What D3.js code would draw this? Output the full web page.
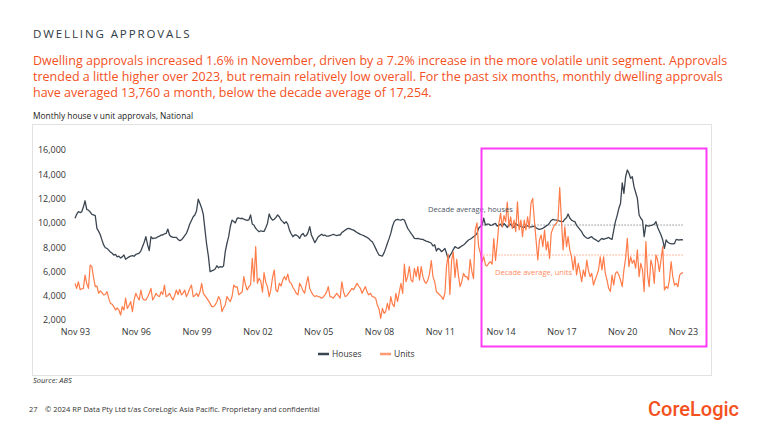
<!DOCTYPE html>
<html>
<head>
<meta charset="utf-8">
<script src="https://cdn.jsdelivr.net/npm/d3@7"></script>
<style>
  body { margin: 0; background: #fff; }
  text { font-family: "Open Sans", sans-serif; }
</style>
</head>
<body>
<svg id="chart" width="768" height="432"></svg>
<script>
// monthly approvals, Nov 1993 .. Nov 2023 (one row per year, starting in November)
const houses = [
  10380,10700,10920,10850,10900,11300,11820,11100,11050,10900,10700,10650,
  10600,9550,9300,9000,8600,8180,7950,7900,7750,7600,7500,7350,
  7400,7200,7260,7100,7200,7350,7000,7100,7200,7260,7300,7250,
  7400,7450,7500,7700,8040,8400,8860,8200,7710,8860,8700,8750,
  8750,8850,8900,9000,9000,9100,9130,9490,9000,8860,8800,8800,
  8800,8650,8530,8600,8750,8950,9130,9500,9900,10200,10500,10650,
  11000,11950,11600,11200,10700,9400,8200,7260,5980,6050,6100,6200,
  6470,6300,6400,6350,6450,7630,8300,8860,9700,10230,10100,10000,
  10380,10400,10350,10380,10300,10250,10200,10250,10650,9900,9800,9550,
  9400,9270,9350,9300,9300,9600,9950,10730,10400,10230,10300,10450,
  10650,10500,10230,10100,9950,10100,9900,9400,9100,8860,9000,9000,
  8900,8720,9000,9130,8900,8950,9200,9680,9000,8700,8370,8600,
  8860,8950,9070,8950,9000,8900,8900,8950,9000,9050,9000,8950,
  9000,9000,9200,9300,9400,9500,9550,9500,9450,9400,9300,9200,
  9130,9050,9000,8950,8860,8800,8700,8550,8450,8200,7900,7600,
  7350,7300,7270,7550,7900,8320,8700,9130,9700,10100,10250,10290,
  10250,10230,10300,10230,9900,9550,9350,9130,8950,8720,8700,8720,
  8680,8650,8640,8550,8500,8450,8400,8320,8100,8200,7680,7900,
  7820,7630,7750,7900,7500,7000,7300,7500,7800,8040,7950,7900,
  8000,8100,8180,8300,8450,8590,8650,8750,8860,8950,9130,9550,
  9700,9800,10380,9820,9900,9900,9800,9820,9900,9950,9730,9800,
  9900,9680,9950,9800,9620,9820,9900,9700,9620,9950,9820,9750,
  9700,9650,9620,9820,9750,9700,9650,9700,9730,9600,9500,9470,
  9500,9550,9650,9750,9820,10000,10200,10290,10250,10230,10200,10150,
  10100,10100,10300,10420,10730,10400,10230,10150,10100,9800,9620,9450,
  9270,9000,8860,8750,8720,8800,8860,8700,8640,8550,8450,8600,
  8720,8640,8700,8750,8800,8700,8640,9410,10100,10600,11200,11600,
  13300,12430,13800,14350,14100,13670,13800,12980,12500,12020,10650,10380,
  10200,8860,9820,9750,9730,9800,9820,9900,10100,9620,9300,9000,
  8590,7900,8590,8400,8320,8280,8270,8300,8640,8600,8590,8620,
  8590
];

const units = [
  5020,4600,5150,4500,4550,4600,5700,5000,4600,6530,6400,5500,
  4750,4800,4200,4400,4250,4070,4100,4330,3800,3370,3300,3100,
  2820,3000,2820,2410,3100,2820,3800,2960,3200,3510,2690,3650,
  4200,3900,3650,4470,3800,3650,3650,3900,4200,4600,3650,3900,
  4200,4000,3930,4330,4100,4880,3930,4000,4200,3900,3650,4000,
  4470,4100,4520,4070,4200,4470,3930,4200,4600,4880,3930,4000,
  4200,3930,4300,5020,4200,4000,3800,3600,3370,3100,3100,3240,
  3500,3930,3650,2690,3000,3240,3930,3700,3510,3930,4880,4700,
  4750,4070,4200,4330,5570,4900,4470,4750,4900,7080,5150,8040,
  5020,5430,5200,4300,5900,5100,4750,3930,4500,5500,6120,4470,
  4330,5020,4800,5290,5570,5300,5780,5150,5020,4700,4470,4200,
  4070,5020,4750,4400,4200,5000,5570,4600,4300,4070,3930,4000,
  3930,3900,3800,3900,4070,4300,4750,3930,3900,3800,4000,4200,
  4000,3800,5150,4300,3930,4000,4200,4400,4600,4500,4750,5020,
  4800,4600,4200,4500,4750,4300,4070,4200,3930,3900,3800,3240,
  2900,2140,2960,2550,2700,3370,2820,3930,3300,3100,4200,3510,
  4300,5020,4200,6610,5150,5570,6400,5290,5150,6260,5570,6400,
  5290,6400,5570,5150,5020,5290,5840,6900,5570,5150,4330,4200,
  4060,3930,3700,4200,6400,7400,4100,6900,7600,5500,7000,5700,
  4750,5150,5840,5570,5570,5300,7000,6000,5400,9400,10000,8040,
  7500,6800,7200,6530,6450,6670,6800,6600,8700,6900,8300,9960,
  10780,9680,10600,10100,11700,9680,10500,9550,10230,9270,11740,9410,
  10230,8860,10230,9410,10500,9550,11600,12020,10230,8590,6940,8590,
  9000,8040,9410,7770,8450,7080,9130,9550,9820,9950,10230,12900,
  10230,7770,9680,8040,8860,7770,7220,6120,7220,5710,6670,5980,
  5160,6120,5570,6940,6120,5570,5840,4880,5290,5700,6120,7210,
  6120,7210,5840,5290,4610,4340,5700,4880,5840,5980,5700,5290,
  4750,6120,7080,8730,6400,7210,6670,6940,6260,7770,5570,6670,
  6120,4340,8450,5700,4750,6940,6400,5020,7350,6940,5980,6940,
  8040,4470,4750,4610,5290,6800,5570,4880,5020,4750,5700,5840,
  5900
];

const xTickLabels = ['Nov 93','Nov 96','Nov 99','Nov 02','Nov 05','Nov 08','Nov 11','Nov 14','Nov 17','Nov 20','Nov 23'];
const yTicks = [2000, 4000, 6000, 8000, 10000, 12000, 14000, 16000];
const decadeAvg = { houses: 9820, units: 7350 };
const decadeStart = 240; // month index where the decade window starts

const subtitle = [
  'Dwelling approvals increased 1.6% in November, driven by a 7.2% increase in the more volatile unit segment. Approvals',
  'trended a little higher over 2023, but remain relatively low overall. For the past six months, monthly dwelling approvals',
  'have averaged 13,760 a month, below the decade average of 17,254.'
];

const HOUSE = '#3b4651', UNIT = '#ff7b48', ORANGE = '#f4511e';

const svg = d3.select('#chart');
const start = new Date(1993, 10, 1);
const dates = houses.map((d, i) => d3.timeMonth.offset(start, i));

// header
svg.append('text').attr('x', 33).attr('y', 38)
  .attr('font-size', 11.5).attr('letter-spacing', 1.9).attr('fill', '#2f3a44')
  .text('DWELLING APPROVALS');

svg.selectAll('.sub').data(subtitle).enter().append('text')
  .attr('class', 'sub')
  .attr('x', 33).attr('y', (d, i) => 65 + i * 16)
  .attr('font-size', 12.5).attr('font-weight', 500).attr('fill', ORANGE)
  .text(d => d);

svg.append('text').attr('x', 33).attr('y', 119)
  .attr('font-size', 8.4).attr('fill', '#222')
  .text('Monthly house v unit approvals, National');

// chart panel
svg.append('rect').attr('x', 32.5).attr('y', 124.5).attr('width', 679).attr('height', 251)
  .attr('fill', '#fff').attr('stroke', '#e2e2e2');

const x = d3.scaleTime().domain([start, dates[dates.length - 1]]).range([75, 683]);
const y = d3.scaleLinear().domain([2000, 16000]).range([320, 150]);

const yAxis = svg.append('g').attr('transform', 'translate(70,0)')
  .call(d3.axisLeft(y).tickValues(yTicks).tickSize(0).tickPadding(4).tickFormat(d3.format(',')));
yAxis.select('.domain').remove();
yAxis.selectAll('text').attr('font-size', 9).attr('fill', '#333')
  .style('font-family', '"Open Sans", sans-serif');

const xTickDates = xTickLabels.map((d, i) => d3.timeMonth.offset(start, i * 36));
const xAxis = svg.append('g').attr('transform', 'translate(0,320)')
  .call(d3.axisBottom(x).tickValues(xTickDates).tickSize(0).tickPadding(9)
    .tickFormat((d, i) => xTickLabels[i]));
xAxis.select('.domain').remove();
xAxis.selectAll('text').attr('font-size', 9).attr('fill', '#333')
  .style('font-family', '"Open Sans", sans-serif');

// decade averages
const avgFrom = dates[decadeStart], avgTo = dates[dates.length - 1];
svg.append('line')
  .attr('x1', x(avgFrom)).attr('x2', x(avgTo))
  .attr('y1', y(decadeAvg.houses)).attr('y2', y(decadeAvg.houses))
  .attr('stroke', '#8a8f94').attr('stroke-width', 1).attr('stroke-dasharray', '1.5,1.5');
svg.append('line')
  .attr('x1', x(avgFrom)).attr('x2', x(avgTo))
  .attr('y1', y(decadeAvg.units)).attr('y2', y(decadeAvg.units))
  .attr('stroke', '#ffa27f').attr('stroke-width', 1).attr('stroke-dasharray', '1.5,1.5');

const line = d3.line().x((d, i) => x(dates[i])).y(d => y(d));

svg.append('path').datum(houses)
  .attr('fill', 'none').attr('stroke', HOUSE).attr('stroke-width', 1.3)
  .attr('stroke-linejoin', 'round').attr('d', line);
svg.append('path').datum(units)
  .attr('fill', 'none').attr('stroke', UNIT).attr('stroke-width', 1.2)
  .attr('stroke-linejoin', 'round').attr('d', line);

// annotations
svg.append('text').attr('x', 428).attr('y', 212)
  .attr('font-size', 7.5).attr('fill', '#4d5863')
  .text('Decade average, houses');
svg.append('text').attr('x', 495).attr('y', 275)
  .attr('font-size', 7.5).attr('fill', '#ff8a5c')
  .text('Decade average, units');

// highlight box
svg.append('rect').attr('x', 481.5).attr('y', 148.5).attr('width', 225).attr('height', 198)
  .attr('fill', 'none').attr('stroke', '#ff3cf5').attr('stroke-width', 2);

// legend
const legend = [
  { name: 'Houses', color: HOUSE, x: 318 },
  { name: 'Units', color: '#ff9a72', x: 380 }
];
const lg = svg.selectAll('.lg').data(legend).enter().append('g').attr('class', 'lg')
  .attr('transform', d => `translate(${d.x},354)`);
lg.append('line').attr('x1', 0).attr('x2', 11).attr('stroke', d => d.color).attr('stroke-width', 2.5);
lg.append('text').attr('x', 14).attr('y', 3).attr('font-size', 8.5).attr('fill', '#333').text(d => d.name);

// footer
svg.append('text').attr('x', 33).attr('y', 383)
  .attr('font-size', 7.5).attr('font-style', 'italic').attr('fill', '#333')
  .text('Source: ABS');
svg.append('text').attr('x', 29).attr('y', 412)
  .attr('font-size', 7.5).attr('fill', '#333').text('27');
svg.append('text').attr('x', 45).attr('y', 412)
  .attr('font-size', 7.5).attr('fill', '#333')
  .text('\u00a9 2024 RP Data Pty Ltd t/as CoreLogic Asia Pacific. Proprietary and confidential');
svg.append('text').attr('x', 648).attr('y', 416)
  .attr('font-size', 20).attr('font-weight', 500).attr('fill', ORANGE)
  .style('font-family', 'Roboto, sans-serif')
  .text('CoreLogic');
</script>
</body>
</html>
